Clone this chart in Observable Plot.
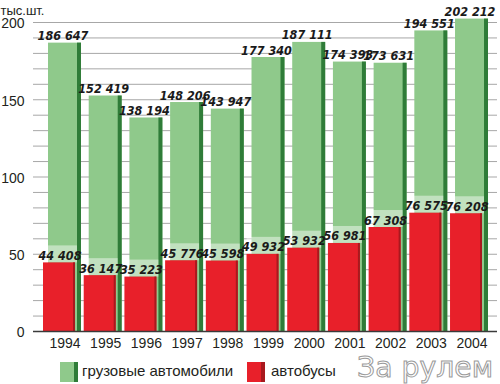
<!DOCTYPE html>
<html>
<head>
<meta charset="utf-8">
<script src="https://cdn.jsdelivr.net/npm/d3@7"></script>
<script src="https://cdn.jsdelivr.net/npm/@observablehq/plot@0.6"></script>
<style>
  html, body { margin: 0; padding: 0; background: #fff; }
  #wrap { position: relative; width: 500px; height: 384px; overflow: hidden; font-family: "Liberation Sans", Arial, sans-serif; color: #231f20; }
  .sw { position: absolute; top: 362px; height: 20px; }
  .lt { position: absolute; top: 361px; font-size: 15px; line-height: 20px; white-space: nowrap; }
  #wm { position: absolute; left: 356px; top: 356px; overflow: visible; }
</style>
</head>
<body>
<div id="wrap"></div>
<script>
const years = ["1994","1995","1996","1997","1998","1999","2000","2001","2002","2003","2004"];
const trucks = [186647,152419,138194,148206,143947,177340,187111,174393,173631,194551,202212];
const buses  = [44408,36147,35223,45776,45598,49932,53932,56981,67308,76575,76208];
const yTicks = [0,50,100,150,200];
const gridTicks = [10,20,30,40,50,60,70,80,90,100,110,120,130,140,150,160,170,180,190,200];
const seriesNames = ["грузовые автомобили","автобусы"];
const unitLabel = "тыс.шт.";
const watermark = "За рулем";

const fmt = v => String(v).replace(/\B(?=(\d{3})+(?!\d))/g, " ");
const data = years.map((year, i) => ({
  year, trucks: trucks[i] / 1000, buses: buses[i] / 1000,
  tl: fmt(trucks[i]), bl: fmt(buses[i])
}));

const lightGreen = "#8fc98b", darkGreen = "#2f7c38", red = "#e8202a", darkRed = "#a8191e";
const numFont = "'DejaVu Sans Condensed', 'DejaVu Sans', sans-serif";

const chart = Plot.plot({
  width: 500, height: 384,
  marginLeft: 33, marginRight: 3, marginTop: 22, marginBottom: 53,
  style: { fontFamily: "'Liberation Sans', Arial, sans-serif", color: "#231f20", background: "transparent" },
  x: { domain: years, paddingInner: 0.19, paddingOuter: 0.295, align: 0.625, round: false },
  y: { domain: [0, 200] },
  marks: [
    Plot.ruleY(gridTicks, { stroke: "#a7a7a7", strokeWidth: 1 }),
    Plot.barY(data, { x: "year", y: "trucks", fill: lightGreen }),
    Plot.barY(data, { x: "year", y: "trucks", fill: darkGreen, insetLeft: 29 }),
    Plot.rectY(data, { x: "year", y1: "buses", y2: d => d.buses + 11, fill: "white", fillOpacity: 0.45, dx: -5, insetRight: -1 }),
    Plot.barY(data, { x: "year", y: "buses", fill: red, dx: -5, insetRight: 1 }),
    Plot.barY(data, { x: "year", y: "buses", fill: darkRed, dx: -5, insetLeft: 30, insetRight: 1 }),
    Plot.ruleY([0], { stroke: "#3a3a3a", strokeWidth: 1.5 }),
    Plot.text(data, { x: "year", y: "trucks", text: "tl", dx: -2, dy: -3, lineAnchor: "bottom",
      fontFamily: numFont, fontWeight: "bold", fontStyle: "italic", fontSize: 12.5, fill: "#1a1a1a" }),
    Plot.text(data, { x: "year", y: "buses", text: "bl", dx: -5, dy: -3, lineAnchor: "bottom",
      fontFamily: numFont, fontWeight: "bold", fontStyle: "italic", fontSize: 12.5, fill: "#1a1a1a" }),
    Plot.axisY(yTicks, { tickSize: 0, tickPadding: 9, fontSize: 14, dy: 1.5, label: null }),
    Plot.axisX({ tickSize: 0, tickPadding: 7, fontSize: 14, label: null }),
    Plot.text([unitLabel], { frameAnchor: "top-left", dx: -33, dy: -12, lineAnchor: "middle", textAnchor: "start", fontSize: 13, fill: "#231f20" })
  ]
});

const wrap = document.getElementById("wrap");
wrap.appendChild(chart);

function addSwatch(left, fill, edge) {
  const s = document.createElement("div");
  s.className = "sw";
  s.style.left = left + "px";
  s.style.width = "18px";
  s.style.background = `linear-gradient(to right, ${fill} 0 14px, ${edge} 14px 18px)`;
  wrap.appendChild(s);
}
function addLabel(left, text) {
  const t = document.createElement("div");
  t.className = "lt";
  t.style.left = left + "px";
  t.textContent = text;
  wrap.appendChild(t);
}
addSwatch(60, lightGreen, darkGreen);
addLabel(82, seriesNames[0]);
addSwatch(247, red, darkRed);
addLabel(271, seriesNames[1]);

const ns = "http://www.w3.org/2000/svg";
const wm = document.createElementNS(ns, "svg");
wm.setAttribute("id", "wm");
wm.setAttribute("width", "140");
wm.setAttribute("height", "28");
const wt = document.createElementNS(ns, "text");
wt.setAttribute("x", "1");
wt.setAttribute("y", "21");
wt.setAttribute("textLength", "136");
wt.setAttribute("lengthAdjust", "spacingAndGlyphs");
wt.setAttribute("font-family", "DejaVu Sans, sans-serif");
wt.setAttribute("font-size", "28");
wt.setAttribute("fill", "#fff");
wt.setAttribute("stroke", "#9a9a9a");
wt.setAttribute("stroke-width", "1");
wt.textContent = watermark;
wm.appendChild(wt);
wrap.appendChild(wm);
</script>
</body>
</html>
